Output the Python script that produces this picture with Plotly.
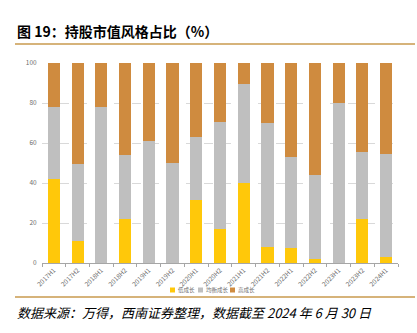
import plotly.graph_objects as go

categories = ["2017H1", "2017H2", "2018H1", "2018H2", "2019H1", "2019H2", "2020H1", "2020H2",
              "2021H1", "2021H2", "2022H1", "2022H2", "2023H1", "2023H2", "2024H1"]
low_growth = [42, 11, 0, 22, 0, 0, 31.5, 17, 40, 8, 7.5, 2, 0, 22, 3]
balanced_growth = [36, 38.5, 78, 32, 61, 50, 31.5, 53.5, 49.5, 62, 45.5, 42, 80, 33.5, 51.5]
high_growth = [round(100 - a - b, 1) for a, b in zip(low_growth, balanced_growth)]
series_names = ["低成长", "均衡成长", "高成长"]
yticks = [0, 20, 40, 60, 80, 100]

W, H = 417, 333
L, R, T, B = 42, 398, 63, 263

def px(x):
    return (x - L) / (R - L)

def py(y):
    return (B - y) / (B - T)

fig = go.Figure()
colors = ["#FFC80A", "#BFBFBF", "#CF8B3F"]
for name, vals, c in zip(series_names, [low_growth, balanced_growth, high_growth], colors):
    fig.add_trace(go.Bar(x=categories, y=vals, name=name, showlegend=False,
                         marker=dict(color=c, line=dict(width=0))))

fig.update_layout(
    width=W, height=H, barmode="stack", bargap=0.49,
    margin=dict(l=L, r=W - R, t=T, b=H - B),
    paper_bgcolor="white", plot_bgcolor="white",
    font=dict(family="Noto Sans CJK SC, Noto Sans, sans-serif", color="#595959"),
    showlegend=False,
    xaxis=dict(type="category", showgrid=False, showline=True, linecolor="#A6A6A6", linewidth=1,
               ticks="outside", tickson="boundaries", ticklen=3, tickcolor="#A6A6A6",
               tickangle=-45, tickfont=dict(size=6.5, color="#6E6E6E")),
    yaxis=dict(range=[0, 100], tickvals=yticks, showgrid=True, gridcolor="#D9D9D9",
               griddash="dash", gridwidth=1, zeroline=False, showline=False,
               tickfont=dict(size=6.5, color="#6E6E6E"), ticklen=3, ticks="outside",
               tickcolor="white"),
)

# legend drawn as squares + text entries
legend_x = [170, 198, 230]
for name, c, lx in zip(series_names, colors, legend_x):
    fig.add_shape(type="rect", xref="paper", yref="paper", x0=px(lx), x1=px(lx + 5),
                  y0=py(292.5), y1=py(287.5), fillcolor=c, line=dict(width=0))
    fig.add_annotation(text=name, xref="paper", yref="paper",
                       x=px(lx + 6), y=py(290), xanchor="left", yanchor="middle", showarrow=False,
                       font=dict(size=5.5, color="#6E6E6E"))

fig.add_annotation(text="<b>图 19：持股市值风格占比（%）</b>", xref="paper", yref="paper",
                   x=px(15), y=py(31), xanchor="left", yanchor="middle", showarrow=False,
                   font=dict(size=14, color="#000000", family="Noto Sans CJK SC"))
fig.add_annotation(text="<i>数据来源：万得，西南证券整理，数据截至 2024 年 6 月 30 日</i>",
                   xref="paper", yref="paper", x=px(15), y=py(312), xanchor="left",
                   yanchor="middle", showarrow=False,
                   font=dict(size=13, color="#000000", family="Noto Sans CJK SC"))
for yy in [44, 297]:
    fig.add_shape(type="line", xref="paper", yref="paper", x0=px(15), x1=px(415),
                  y0=py(yy), y1=py(yy), line=dict(color="#D6B37A", width=2))

fig.write_html("out.html")
